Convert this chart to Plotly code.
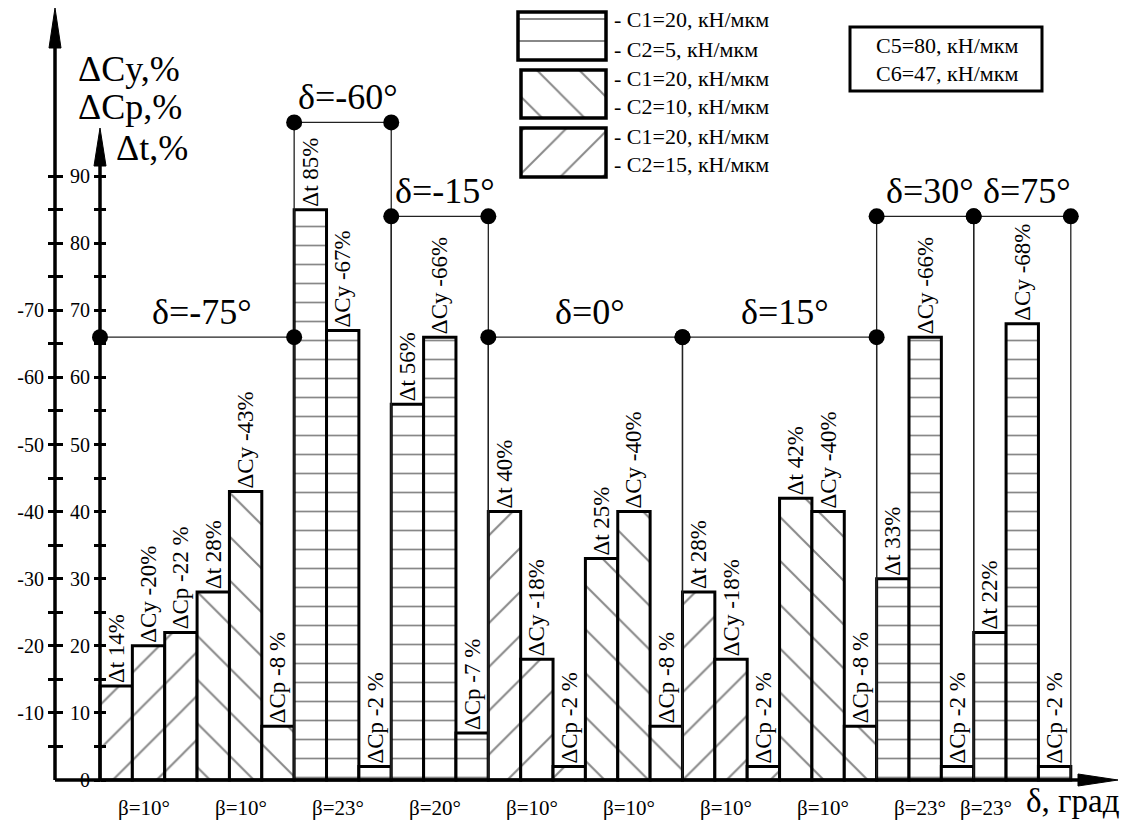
import plotly.graph_objects as go

# ---------------- data ----------------
beta_labels = ["β=10°", "β=10°", "β=23°", "β=20°", "β=10°",
               "β=10°", "β=10°", "β=10°", "β=23°", "β=23°"]
c2_of_group = [15, 10, 5, 5, 15, 10, 15, 10, 5, 5]          # C2, кН/мкм
series_names = ["Δt", "ΔCy", "ΔCp"]

# values as printed on the labels (%)
dt_pct = [14, 28, 85, 56, 40, 25, 28, 42, 33, 22]
dcy_pct = [-20, -43, -67, -66, -18, -40, -18, -40, -66, -68]
dcp_pct = [-22, -8, -2, -7, -2, -8, -2, -8, -2, -2]

# bar heights as drawn (magnitude, %)
dt_height = [14, 28, 85, 56, 40, 33, 28, 42, 30, 22]
dcy_height = [20, 43, 67, 66, 18, 40, 18, 40, 66, 68]
dcp_height = [22, 8, 2, 7, 2, 8, 2, 8, 2, 2]

delta_labels = ["δ=-75°", "δ=-60°", "δ=-15°", "δ=0°", "δ=15°", "δ=30°", "δ=75°"]
delta_groups = [2, 1, 1, 2, 2, 1, 1]          # β-groups covered by each δ
delta_levels = [66, 98, 84, 66, 66, 84, 84]

legend_c1 = [20, 20, 20]
legend_c2 = [5, 10, 15]
box_lines = ["C5=80, кН/мкм", "C6=47, кН/мкм"]

inner_ticks = [0, 10, 20, 30, 40, 50, 60, 70, 80, 90]
outer_ticks = [10, 20, 30, 40, 50, 60, 70, 80, 90]
outer_ticktext = ["-10", "-20", "-30", "-40", "-50", "-60", "-70", "", ""]
minor_ticks = [5, 15, 25, 35, 45, 55, 65, 75, 85]

# ---------------- layout helpers ----------------
W, H = 1137, 833
OFF = 8                      # page body margin
FW, FH = W - 2 * OFF, H - 2 * OFF
FONT = "Liberation Serif"
X0_PX, UX = 100, 32.36     # page pixel of x=0, pixels per bar
Y0_PX, UY = 780, 6.71      # page pixel of y=0, pixels per %


def dx(p):
    return (p - X0_PX) / UX


def dy(p):
    return (Y0_PX - p) / UY


def fx(p):
    return (p - OFF) / FW


PATTERN = {5: "-", 10: "\\", 15: "/"}
PSIZE = {5: 19, 10: 31, 15: 31}
PSOL = {5: 0.09, 10: 0.065, 15: 0.065}

# ---------------- bars ----------------
bx, by, btext, bshape, bsize, bsol = [], [], [], [], [], []
for g in range(len(beta_labels)):
    c2 = c2_of_group[g]
    vals = [(dt_height[g], f"Δt {dt_pct[g]}%"),
            (dcy_height[g], f"ΔCy {dcy_pct[g]}%"),
            (dcp_height[g], f"ΔCp {dcp_pct[g]} %")]
    for s, (h, t) in enumerate(vals):
        bx.append(3 * g + s + 0.5)
        by.append(h)
        btext.append(t)
        bshape.append(PATTERN[c2])
        bsize.append(PSIZE[c2])
        bsol.append(PSOL[c2])

fig = go.Figure()

# bracket verticals (under bars)
ends = [0]
for n in delta_groups:
    ends.append(ends[-1] + 3 * n)
vx, vy = [], []
for i, lev in enumerate(delta_levels):
    for e in (ends[i], ends[i + 1]):
        vx += [e, e, None]
        vy += [lev, 0, None]
fig.add_trace(go.Scatter(x=vx, y=vy, mode="lines",
                         line=dict(color="#222", width=1.3),
                         hoverinfo="skip", showlegend=False))

fig.add_trace(go.Bar(
    x=bx, y=by, width=1, text=btext,
    textposition="outside", textangle=-90, constraintext="none",
    cliponaxis=False,
    textfont=dict(family=FONT, size=23, color="black"),
    marker=dict(color="white", line=dict(color="black", width=3),
                pattern=dict(shape=bshape, size=bsize, solidity=bsol,
                             fgcolor="#111", bgcolor="white")),
    showlegend=False, hoverinfo="skip"))

# legend swatches
sw_px = [(518, 606, 12, 60), (521, 606, 70, 118), (521, 606, 128, 177)]
lx, ly, lb, lw = [], [], [], []
for (x0, x1, y0, y1) in sw_px:
    lx.append((dx(x0) + dx(x1)) / 2)
    lw.append(dx(x1) - dx(x0))
    lb.append(dy(y1))
    ly.append(dy(y0) - dy(y1))
fig.add_trace(go.Bar(
    x=lx, y=ly, base=lb, width=lw,
    marker=dict(color="white", line=dict(color="black", width=3.5),
                pattern=dict(shape=[PATTERN[c] for c in legend_c2],
                             size=[22 if c == 5 else 30 for c in legend_c2],
                             solidity=[PSOL[c] for c in legend_c2],
                             fgcolor="#111", bgcolor="white")),
    showlegend=False, hoverinfo="skip"))

# bracket horizontals with dots
for i, lev in enumerate(delta_levels):
    fig.add_trace(go.Scatter(
        x=[ends[i], ends[i + 1]], y=[lev, lev], mode="lines+markers",
        line=dict(color="#222", width=1.3),
        marker=dict(color="black", size=16),
        hoverinfo="skip", showlegend=False, cliponaxis=False))

# dummy traces for extra tick axes
for ya in ("y2", "y3", "y4"):
    fig.add_trace(go.Scatter(x=[None], y=[None], yaxis=ya,
                             showlegend=False, hoverinfo="skip"))

# ---------------- annotations ----------------
ann = []
for i, lab in enumerate(delta_labels):
    ann.append(dict(x=(ends[i] + ends[i + 1]) / 2, y=delta_levels[i],
                    text=lab, showarrow=False, xanchor="center",
                    yanchor="bottom", yshift=3, xshift=5,
                    font=dict(family=FONT, size=36, color="black")))
for g, lab in enumerate(beta_labels):
    ann.append(dict(x=3 * g + 1.5, y=dy(808), text=lab, showarrow=False,
                    xshift=-36 if g == len(beta_labels) - 1 else -5,
                    font=dict(family=FONT, size=21, color="black")))
ann.append(dict(x=dx(1122), y=dy(801), text="δ, град", showarrow=False,
                xanchor="right",
                font=dict(family=FONT, size=33, color="black")))
ann.append(dict(x=dx(129), y=dy(69), text="ΔCy,%", showarrow=False,
                font=dict(family=FONT, size=36, color="black")))
ann.append(dict(x=dx(130), y=dy(107), text="ΔCp,%", showarrow=False,
                font=dict(family=FONT, size=36, color="black")))
ann.append(dict(x=dx(152), y=dy(148), text="Δt,%", showarrow=False,
                font=dict(family=FONT, size=36, color="black")))
leg_y = [19, 49, 78, 106, 136, 164]
for k in range(3):
    for j, txt in enumerate([f"- C1={legend_c1[k]}, кН/мкм",
                             f"- C2={legend_c2[k]}, кН/мкм"]):
        ann.append(dict(x=dx(612), y=dy(leg_y[2 * k + j]), text=txt,
                        showarrow=False, xanchor="left",
                        font=dict(family=FONT, size=22, color="black")))
for j, txt in enumerate(box_lines):
    ann.append(dict(x=dx(947), y=dy([45, 73][j]), text=txt, showarrow=False,
                    font=dict(family=FONT, size=22, color="black")))

# ---------------- shapes ----------------
xo = dx(55)
shapes = [
    dict(type="line", x0=xo, x1=dx(1090), y0=0, y1=0,
         line=dict(color="black", width=3.5)),
    dict(type="line", x0=xo, x1=xo, y0=0, y1=dy(40),
         line=dict(color="black", width=3.5)),
    dict(type="line", x0=0, x1=0, y0=0, y1=dy(160),
         line=dict(color="black", width=3.5)),
    dict(type="rect", x0=dx(850), x1=dx(1042), y0=dy(91), y1=dy(27),
         line=dict(color="black", width=3)),
    dict(type="path", xsizemode="pixel", ysizemode="pixel",
         xanchor=dx(1118), yanchor=0, path="M0,0 L-40,6 L-40,-6 Z",
         fillcolor="black", line=dict(color="black", width=1)),
    dict(type="path", xsizemode="pixel", ysizemode="pixel",
         xanchor=xo, yanchor=dy(8), path="M0,0 L-6,-40 L6,-40 Z",
         fillcolor="black", line=dict(color="black", width=1)),
    dict(type="path", xsizemode="pixel", ysizemode="pixel",
         xanchor=0, yanchor=dy(128), path="M0,0 L-6,-38 L6,-38 Z",
         fillcolor="black", line=dict(color="black", width=1)),
]

yr = [dy(OFF + FH), dy(OFF)]
tickfont = dict(family=FONT, size=20, color="black")
common = dict(range=yr, showgrid=False, zeroline=False, showline=False,
              tickcolor="black", tickwidth=2.5)

fig.update_layout(
    width=FW, height=FH, margin=dict(l=0, r=0, t=0, b=0),
    paper_bgcolor="white", plot_bgcolor="white",
    barmode="overlay", showlegend=False,
    font=dict(family=FONT, color="black"),
    xaxis=dict(range=[dx(OFF), dx(OFF + FW)], visible=False, fixedrange=True),
    yaxis=dict(**common, anchor="free", position=fx(100),
               ticks="outside", ticklen=6, tickvals=inner_ticks,
               ticktext=[str(v) for v in inner_ticks], tickfont=tickfont,
               minor=dict(tickvals=minor_ticks, ticks="outside", ticklen=6,
                          tickwidth=2.5, tickcolor="black")),
    yaxis3=dict(**common, anchor="free", position=fx(100), overlaying="y",
                matches="y", ticks="inside", ticklen=5,
                tickvals=inner_ticks, showticklabels=False,
                minor=dict(tickvals=minor_ticks, ticks="inside", ticklen=5,
                           tickwidth=2.5, tickcolor="black")),
    yaxis2=dict(**common, anchor="free", position=fx(55), overlaying="y",
                matches="y", ticks="outside", ticklen=7,
                tickvals=outer_ticks, ticktext=outer_ticktext,
                tickfont=tickfont,
                minor=dict(tickvals=minor_ticks, ticks="outside", ticklen=7,
                           tickwidth=2.5, tickcolor="black")),
    yaxis4=dict(**common, anchor="free", position=fx(55), overlaying="y",
                matches="y", ticks="inside", ticklen=7,
                tickvals=outer_ticks, showticklabels=False,
                minor=dict(tickvals=minor_ticks, ticks="inside", ticklen=7,
                           tickwidth=2.5, tickcolor="black")),
    shapes=shapes, annotations=ann,
)

fig.write_html("out.html")
